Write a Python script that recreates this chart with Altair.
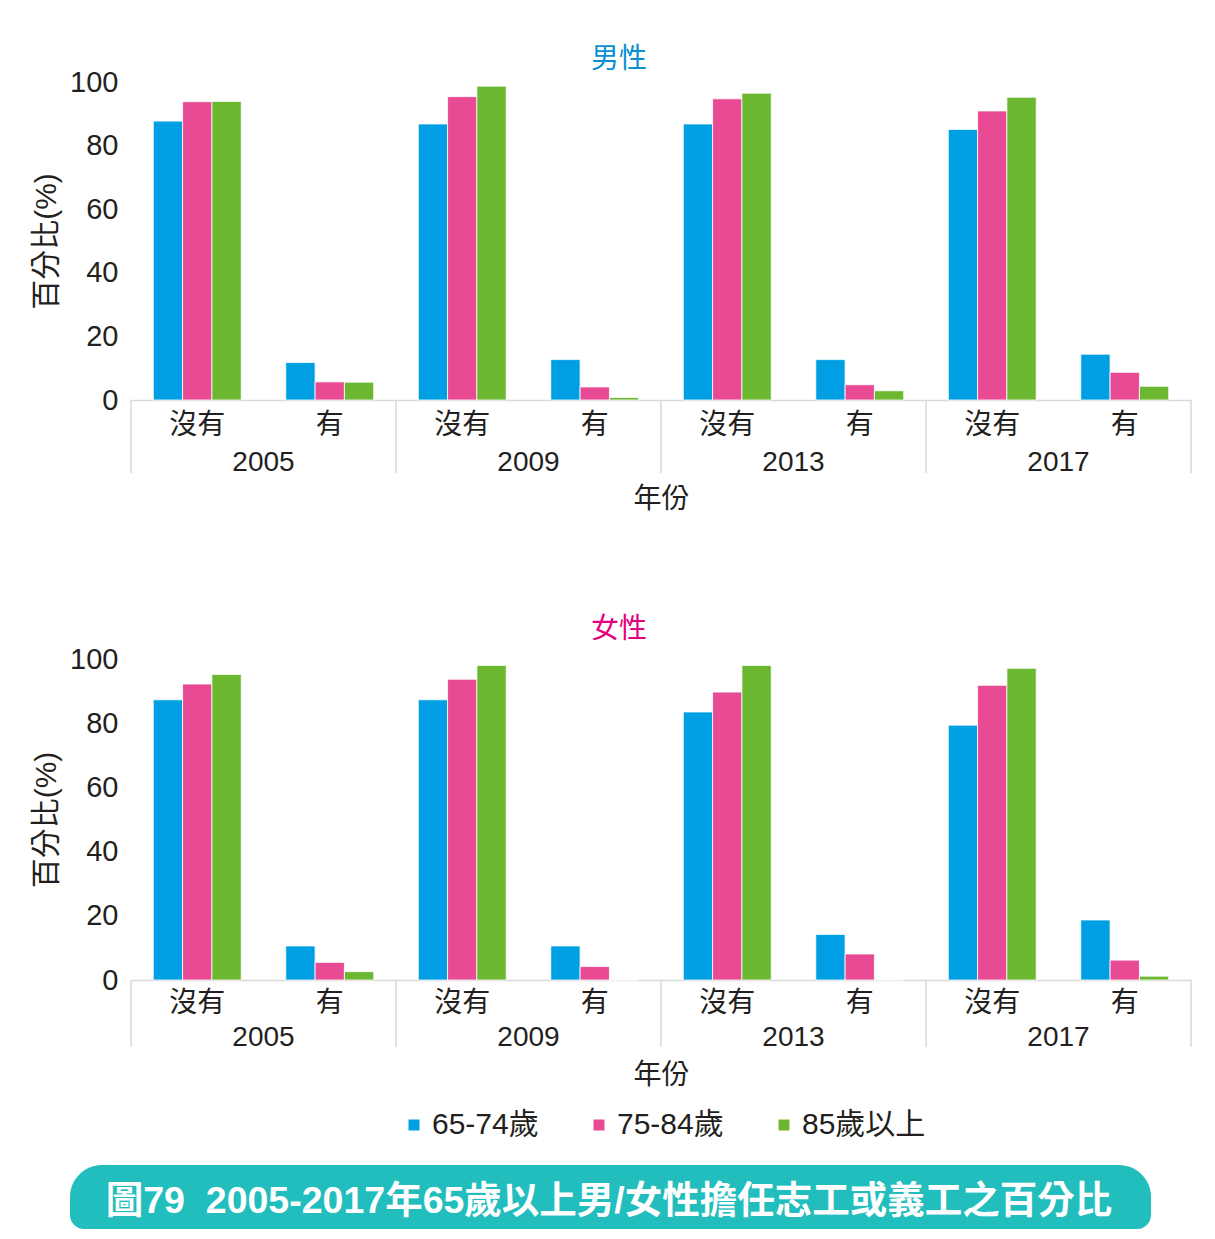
import altair as alt
import pandas as pd
from itertools import product

years = ["2005", "2009", "2013", "2017"]
answers = ["沒有", "有"]
ages = ["65-74歲", "75-84歲", "85歲以上"]
colors = ["#009fe3", "#e84a93", "#6bb72f"]

# order: 2005沒有, 2005有, 2009沒有, 2009有, 2013沒有, 2013有, 2017沒有, 2017有
male_65_74 = [87.7, 11.8, 86.8, 12.7, 86.8, 12.7, 85.1, 14.4]
male_75_84 = [93.8, 5.7, 95.4, 4.1, 94.7, 4.8, 90.9, 8.7]
male_85 = [93.9, 5.6, 98.7, 0.8, 96.5, 2.9, 95.2, 4.3]

female_65_74 = [87.3, 10.6, 87.3, 10.6, 83.5, 14.2, 79.4, 18.7]
female_75_84 = [92.2, 5.5, 93.7, 4.2, 89.7, 8.1, 91.8, 6.2]
female_85 = [95.2, 2.6, 98.0, 0.0, 98.0, 0.0, 97.1, 1.2]

y_ticks = [0, 20, 40, 60, 80, 100]
banner_title = "圖79\u00a0\u00a02005-2017年65歲以上男/女性擔任志工或義工之百分比"

FONT = "Liberation Sans, Noto Sans CJK TC, sans-serif"
TXT = "#231f20"
GRID = "#d9d9d9"

keys = [f"{y}|{a}" for y, a in product(years, answers)]


def make_df(series_list):
    rows = []
    for i, k in enumerate(keys):
        y, a = k.split("|")
        for age, s in zip(ages, series_list):
            rows.append({"key": k, "year": y, "answer": a, "age": age, "value": s[i]})
    return pd.DataFrame(rows)


def xenc(**kw):
    return alt.X(
        "key:N",
        sort=keys,
        scale=alt.Scale(domain=keys, paddingInner=0, paddingOuter=0),
        title="年份",
        **kw,
    )


def panel(df, title, tcolor, H, cat_dy, year_dy, title_pad, sep_len, t_off):
    bars = alt.Chart(df).mark_bar(stroke="white", strokeWidth=0.8).encode(
        x=xenc(
            axis=alt.Axis(
                labels=False,
                ticks=False,
                domainColor=GRID,
                domainWidth=1.5,
                titleFontSize=28,
                titleFontWeight="normal",
                titlePadding=title_pad,
            )
        ),
        xOffset=alt.XOffset(
            "age:N", sort=ages, scale=alt.Scale(domain=ages, paddingInner=0, paddingOuter=0.76)
        ),
        y=alt.Y(
            "value:Q",
            scale=alt.Scale(domain=[0, 100], nice=False),
            title="百分比(%)",
            axis=alt.Axis(
                values=y_ticks,
                grid=False,
                ticks=False,
                domain=False,
                labelFontSize=29,
                labelPadding=13,
                titleFontSize=30,
                titleFontWeight="normal",
                titlePadding=8,
            ),
        ),
        color=alt.Color(
            "age:N",
            sort=ages,
            scale=alt.Scale(domain=ages, range=colors),
            legend=alt.Legend(
                title=None,
                orient="none",
                legendX=268,
                legendY=1028,
                direction="horizontal",
                symbolType="square",
                symbolSize=121,
                symbolStrokeWidth=0,
                labelFontSize=30,
                labelFont=FONT,
                labelColor=TXT,
                labelOffset=3,
                columnPadding=45,
            ),
        ),
    )

    cat_df = pd.DataFrame({"key": keys, "answer": [k.split("|")[1] for k in keys]})
    cat_text = alt.Chart(cat_df).mark_text(
        fontSize=28, font=FONT, color=TXT, baseline="middle"
    ).encode(x=xenc(), y=alt.value(H + cat_dy), text="answer:N")

    year_df = pd.DataFrame({"key": [f"{y}|沒有" for y in years], "year": years})
    year_text = alt.Chart(year_df).mark_text(
        fontSize=28, font=FONT, color=TXT, baseline="middle"
    ).encode(x=xenc(bandPosition=1), y=alt.value(H + year_dy), text="year:N")

    sep_start = alt.Chart(year_df).mark_rule(color=GRID, strokeWidth=1.5).encode(
        x=xenc(bandPosition=0), y=alt.value(H), y2=alt.value(H + sep_len)
    )
    end_df = pd.DataFrame({"key": [keys[-1]]})
    sep_end = alt.Chart(end_df).mark_rule(color=GRID, strokeWidth=1.5).encode(
        x=xenc(bandPosition=1), y=alt.value(H), y2=alt.value(H + sep_len)
    )

    return alt.layer(sep_start, sep_end, bars, cat_text, year_text).properties(
        width=1060,
        height=H,
        title=alt.TitleParams(
            title, color=tcolor, fontSize=28, font=FONT, fontWeight="normal",
            offset=t_off, dx=-42,
        ),
    )


male = panel(make_df([male_65_74, male_75_84, male_85]), "男性", "#0b8fd3", 318, 26, 63, 85, 73, -6)
female = panel(make_df([female_65_74, female_75_84, female_85]), "女性", "#e5007f", 321, 24, 58, 81, 67, 1)

banner_df = pd.DataFrame({"t": [banner_title]})
banner_rect = alt.Chart(banner_df).mark_rect(
    color="#22bdbd",
    cornerRadiusTopLeft=37,
    cornerRadiusTopRight=37,
    cornerRadiusBottomLeft=14,
    cornerRadiusBottomRight=14,
).encode(x=alt.value(-61), x2=alt.value(1020), y=alt.value(0), y2=alt.value(64))
banner_text = alt.Chart(banner_df).mark_text(
    color="white", fontSize=37.5, fontWeight="bold", font=FONT, baseline="middle"
).encode(x=alt.value(478), y=alt.value(37), text="t:N")
banner = alt.layer(banner_rect, banner_text).properties(width=1060, height=64)

panels = alt.vconcat(male, female, spacing=103)

chart = (
    alt.vconcat(panels, banner, spacing=76)
    .properties(padding={"left": 23, "top": 38, "right": 10, "bottom": 0})
    .configure_view(stroke=None)
    .configure_axis(labelFont=FONT, titleFont=FONT, labelColor=TXT, titleColor=TXT)
)

chart.save("out.html", embed_options={"renderer": "svg", "actions": False})
